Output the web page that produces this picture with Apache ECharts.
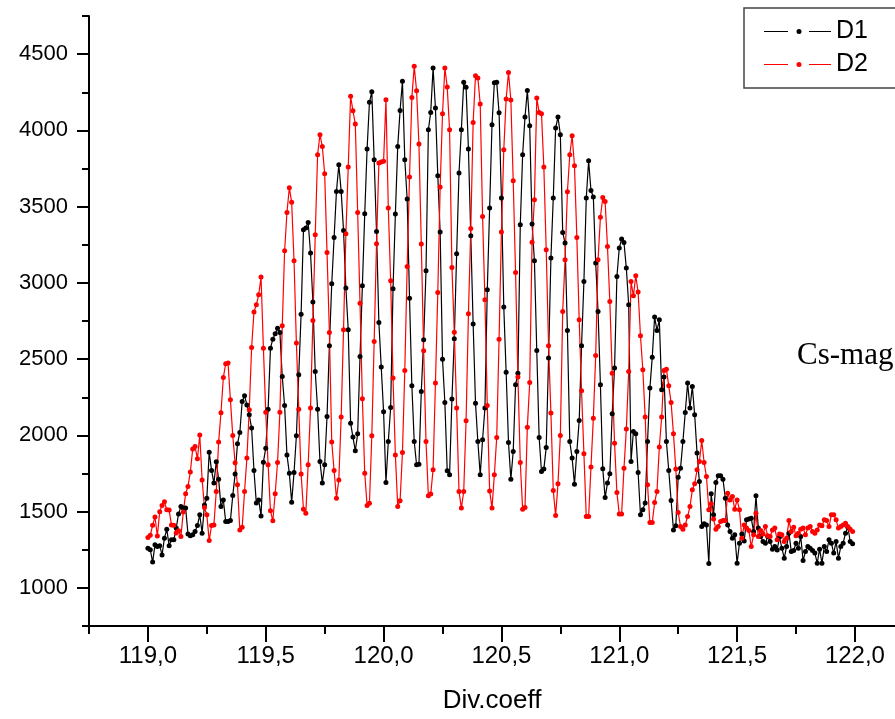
<!DOCTYPE html>
<html>
<head>
<meta charset="utf-8">
<script src="https://cdn.jsdelivr.net/npm/echarts@6/dist/echarts.min.js"></script>
<style>
  html, body { margin: 0; padding: 0; background: #fff; }
  #chart { width: 895px; height: 719px; }
</style>
</head>
<body>
<div id="chart"></div>
<script>
// x positions: 119.00 + i * 0.01
const xStart = 119.0;
const xStep = 0.01;

const d1 = [
  1260, 1250, 1169, 1282, 1271, 1277, 1216, 1326, 1385, 1277,
  1315, 1315, 1392, 1485, 1533, 1523, 1523, 1354, 1341, 1348,
  1369, 1409, 1479, 1359, 1544, 1588, 1890, 1770, 1687, 1827,
  1713, 1533, 1577, 1435, 1435, 1441, 1605, 1746, 1945, 2019,
  2222, 2260, 2200, 2135, 2048, 1770, 1556, 1577, 1472, 1824,
  1916, 2172, 2572, 2631, 2666, 2703, 2675, 2386, 2196, 1872,
  1752, 1562, 1756, 1997, 2397, 2795, 3348, 3360, 3396, 3196,
  2874, 2419, 2172, 1829, 1687, 1807, 2124, 2587, 2994, 3298,
  3600, 3775, 3600, 3344, 2966, 2692, 2080, 1989, 1899, 2010,
  2517, 2981, 3453, 3878, 4184, 4254, 3808, 3337, 2740, 2448,
  2155, 1691, 1960, 2183, 2961, 3452, 3895, 4131, 4322, 3808,
  3550, 2900, 2325, 1960, 1807, 1811, 2288, 2627, 3080, 4004,
  4118, 4409, 4147, 3703, 3333, 2500, 2215, 1768, 1741, 2238,
  2633, 3191, 3720, 4004, 4316, 4282, 3878, 3309, 2730, 2211,
  1960, 1741, 1971, 2179, 2955, 3491, 4037, 4312, 4316, 4115,
  3557, 2841, 2414, 1953, 1713, 1894, 2332, 2408, 3381, 3840,
  4087, 4262, 4031, 3386, 3145, 2557, 1986, 1763, 1779, 1920,
  2507, 3163, 3557, 4016, 4087, 3972, 3331, 3261, 2688, 1960,
  1851, 1680, 1894, 2097, 2587, 3009, 3557, 3801, 3606, 3563,
  3130, 2813, 2332, 1781, 1592, 1687, 1748, 2141, 2441, 3042,
  3228, 3287, 3265, 3097, 2856, 1829, 2025, 2010, 1756, 1479,
  1512, 1556, 1960, 2310, 2513, 2776, 2688, 2758, 2299, 2382,
  1960, 1770, 1573, 1380, 1407, 1726, 1785, 1960, 2150, 2343,
  2179, 2321, 2135, 1884, 1697, 1402, 1420, 1413, 1160, 1617,
  1479, 1691, 1735, 1735, 1713, 1588, 1413, 1369, 1326, 1348,
  1162, 1293, 1354, 1308, 1446, 1451, 1457, 1369, 1604, 1392,
  1337, 1304, 1293, 1337, 1304, 1254, 1271, 1249, 1333, 1260,
  1195, 1271, 1359, 1238, 1245, 1293, 1260, 1337, 1179, 1238,
  1271, 1260, 1245, 1228, 1162, 1254, 1162, 1271, 1238, 1315,
  1293, 1228, 1304, 1195, 1271, 1293, 1359, 1398, 1304, 1289
];

const d2 = [
  1330, 1345, 1410, 1465, 1340, 1500, 1540, 1565, 1512, 1510,
  1413, 1410, 1360, 1375, 1337, 1497, 1617, 1665, 1760, 1910,
  1927, 1846, 2002, 1708, 1527, 1479, 1310, 1409, 1413, 1632,
  1956, 2148, 2380, 2469, 2474, 2233, 2000, 1820, 1676, 1380,
  1398, 1632, 1851, 2168, 2576, 2809, 2856, 2922, 3038, 2572,
  2152, 1807, 1505, 1440, 1617, 1822, 2152, 2719, 3211, 3462,
  3624, 3528, 3145, 2605, 2172, 1746, 1516, 1490, 1807, 2179,
  2754, 3316, 3840, 3972, 3895, 3716, 3200, 2675, 1956, 1770,
  1588, 1708, 2120, 2692, 3322, 3760, 4223, 4129, 4042, 3462,
  2867, 2240, 1752, 1540, 1555, 1997, 2616, 3257, 3786, 3792,
  3797, 4201, 3491, 3014, 2376, 1872, 1533, 1571, 1888, 2425,
  3108, 3694, 4216, 4420, 4260, 3911, 3255, 2555, 1960, 1604,
  1615, 1774, 2343, 2937, 3629, 4109, 4409, 4285, 4004, 3101,
  2677, 2179, 1632, 1523, 1632, 2096, 2798, 3357, 4052, 4359,
  4344, 4173, 3436, 2889, 2196, 1636, 1523, 1741, 1986, 2631,
  3333, 3873, 4206, 4380, 4200, 3670, 3068, 2382, 1822, 1516,
  1527, 2054, 2347, 3266, 3545, 4212, 4118, 4109, 3760, 3217,
  2587, 2146, 1638, 1474, 1682, 1999, 2813, 3151, 3598, 3840,
  3965, 3768, 3298, 2758, 2292, 1879, 1468, 1468, 1792, 2113,
  2524, 3151, 3430, 3560, 3534, 3239, 2878, 2408, 1949, 1625,
  1484, 1484, 1785, 2041, 2419, 3009, 2915, 3047, 2940, 2653,
  2430, 2120, 1676, 1428, 1428, 1560, 1632, 1923, 2120, 2425,
  2434, 2325, 2215, 2010, 1779, 1494, 1402, 1385, 1413, 1468,
  1533, 1643, 1682, 1774, 1829, 1966, 1822, 1730, 1512, 1551,
  1451, 1385, 1402, 1435, 1441, 1441, 1621, 1577, 1599, 1516,
  1577, 1512, 1326, 1413, 1392, 1376, 1271, 1348, 1490, 1337,
  1376, 1354, 1402, 1341, 1337, 1380, 1392, 1315, 1354, 1348,
  1304, 1326, 1441, 1369, 1398, 1341, 1359, 1385, 1392, 1348,
  1392, 1402, 1369, 1359, 1380, 1413, 1407, 1446, 1441, 1402,
  1479, 1479, 1446, 1392, 1402, 1413, 1424, 1402, 1385, 1369
];

const seriesNames = ["D1", "D2"];
const xMajorTicks = [119.0, 119.5, 120.0, 120.5, 121.0, 121.5, 122.0];
const xMinorTicks = [118.75, 119.25, 119.75, 120.25, 120.75, 121.25, 121.75];
const yMajorTicks = [1000, 1500, 2000, 2500, 3000, 3500, 4000, 4500];
const yMinorTicks = [750, 1250, 1750, 2250, 2750, 3250, 3750, 4250, 4750];

const toPoints = (vals) => vals.map((v, i) => [+(xStart + i * xStep).toFixed(2), v]);

// legend glyph: line — dot — line
const legendIcon =
  "path://M0,2.5L24,2.5L24,3.5L0,3.5Z" +
  "M32.5,3A2.5,2.5,0,1,0,37.5,3A2.5,2.5,0,1,0,32.5,3Z" +
  "M45,2.5L67,2.5L67,3.5L45,3.5Z";

const narrow = '"Liberation Sans Narrow", "Liberation Sans", Arial, sans-serif';
const sans = '"Liberation Sans", Arial, sans-serif';

const X_MIN = 118.75, X_MAX = 122.17, Y_MIN = 750, Y_MAX = 4750;

const chart = echarts.init(document.getElementById("chart"), null, { renderer: "canvas" });

chart.setOption({
  animation: false,
  backgroundColor: "#fff",
  grid: { left: 89, right: 0, top: 16, bottom: 93 },
  legend: {
    orient: "vertical",
    left: 744,
    top: 8,
    padding: [11, 40, 11, 20],
    itemWidth: 67,
    itemHeight: 5,
    itemGap: 8,
    borderColor: "#444",
    borderWidth: 1.5,
    itemStyle: { borderWidth: 0 },
    textStyle: { fontFamily: sans, fontSize: 25, color: "#000" },
    data: seriesNames.map((n) => ({ name: n, icon: legendIcon }))
  },
  graphic: [
    {
      type: "text",
      left: 797,
      top: 340,
      style: { text: "Cs-mag", font: '31px "Liberation Serif", "Times New Roman", serif', fill: "#000" }
    }
  ],
  xAxis: [
    {
      type: "value",
      min: X_MIN,
      max: X_MAX,
      position: "bottom",
      splitLine: { show: false },
      axisLine: { onZero: false, lineStyle: { color: "#000", width: 2 } },
      axisTick: { customValues: xMajorTicks, length: 16, lineStyle: { color: "#000", width: 2 } },
      axisLabel: {
        customValues: xMajorTicks,
        margin: 18,
        color: "#000",
        fontFamily: narrow,
        fontSize: 24,
        formatter: (v) => v.toFixed(1).replace(".", ",")
      },
      name: "Div.coeff",
      nameLocation: "middle",
      nameGap: 62,
      nameTextStyle: { fontFamily: narrow, fontSize: 26, color: "#000" }
    },
    {
      type: "value",
      min: X_MIN,
      max: X_MAX,
      position: "bottom",
      splitLine: { show: false },
      axisLine: { show: false, onZero: false },
      axisTick: { customValues: xMinorTicks, length: 8, lineStyle: { color: "#000", width: 2 } },
      axisLabel: { show: false }
    }
  ],
  yAxis: [
    {
      type: "value",
      min: Y_MIN,
      max: Y_MAX,
      position: "left",
      splitLine: { show: false },
      axisLine: { show: true, onZero: false, lineStyle: { color: "#000", width: 2 } },
      axisTick: { customValues: yMajorTicks, length: 12, lineStyle: { color: "#000", width: 2 } },
      axisLabel: {
        customValues: yMajorTicks,
        margin: 21,
        color: "#000",
        fontFamily: sans,
        fontSize: 22,
        formatter: (v) => String(v)
      }
    },
    {
      type: "value",
      min: Y_MIN,
      max: Y_MAX,
      position: "left",
      splitLine: { show: false },
      axisLine: { show: false, onZero: false },
      axisTick: { customValues: yMinorTicks, length: 7, lineStyle: { color: "#000", width: 2 } },
      axisLabel: { show: false }
    }
  ],
  series: [
    {
      name: seriesNames[0],
      type: "line",
      data: toPoints(d1),
      symbol: "circle",
      symbolSize: 5,
      showSymbol: true,
      showAllSymbol: true,
      color: "#000",
      lineStyle: { color: "#000", width: 1.2 },
      itemStyle: { color: "#000" },
      emphasis: { disabled: true }
    },
    {
      name: seriesNames[1],
      type: "line",
      data: toPoints(d2),
      symbol: "circle",
      symbolSize: 5,
      showSymbol: true,
      showAllSymbol: true,
      color: "#ff0000",
      lineStyle: { color: "#ff0000", width: 1.2 },
      itemStyle: { color: "#ff0000" },
      emphasis: { disabled: true }
    }
  ]
});
</script>
</body>
</html>
